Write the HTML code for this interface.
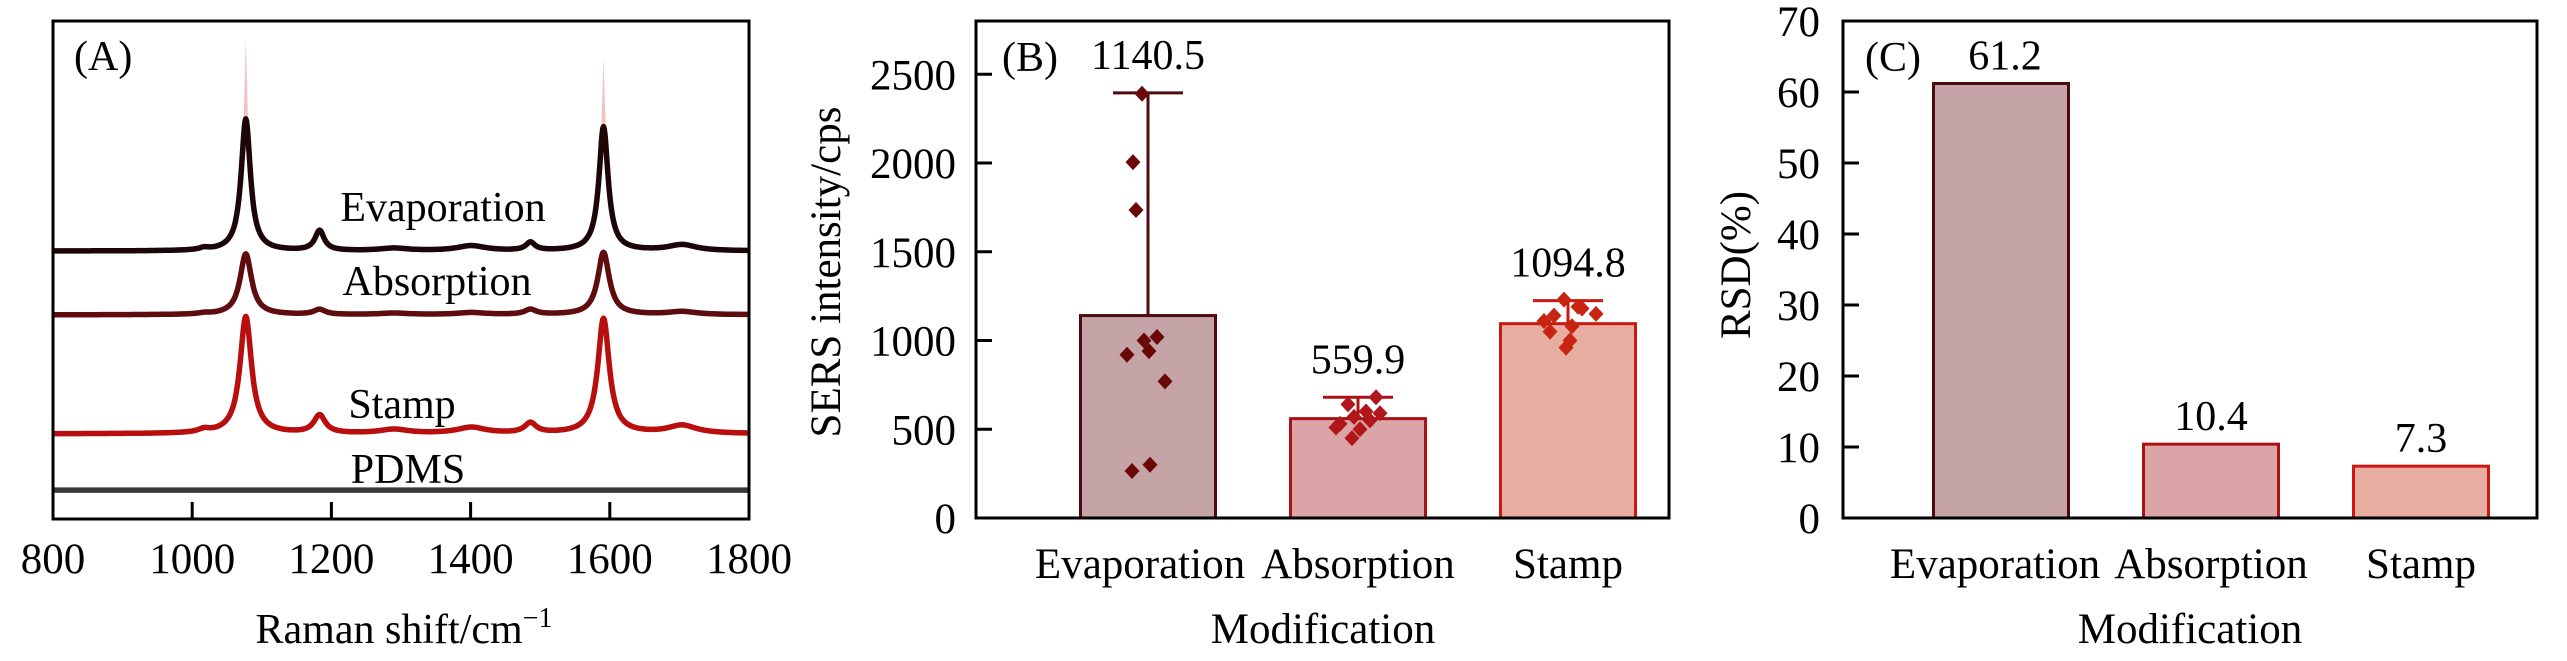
<!DOCTYPE html>
<html><head><meta charset="utf-8"><style>
html,body{margin:0;padding:0;background:#fff;}
svg{display:block;font-family:"Liberation Serif",serif;}
</style></head><body>
<svg id="fig" width="2567" height="661" viewBox="0 0 2567 661"></svg>
<script>
// ---------- Panel A data ----------
const ramanTicks = [800, 1000, 1200, 1400, 1600, 1800];
const seriesNames = ["Evaporation", "Absorption", "Stamp", "PDMS"];
const seriesOffsets = [53.8, 41.0, 17.1, 5.8];
const peakPositions = [1017, 1077, 1183, 1290, 1401, 1486, 1591, 1704];
const evapHeights = [0.4, 26.5, 4.0, 0.5, 1.0, 1.6, 24.9, 1.2];
const absHeights = [0.2, 12.2, 1.0, 0.3, 0.4, 1.0, 12.5, 0.6];
const stampHeights = [0.6, 23.5, 3.6, 0.8, 1.2, 2.0, 23.1, 1.6];
const pdmsHeights = [0, 0, 0, 0, 0, 0, 0, 0];
const evapSpikeHeights = [42.6, 38.7];
const evapSpikePositions = [1077, 1591];
// ---------- Panel B data ----------
const categories = ["Evaporation", "Absorption", "Stamp"];
const meanIntensity = [1140.5, 559.9, 1094.8];
const errorTop = [2395, 680, 1225];
const evapPoints = [2390, 2005, 1735, 1020, 1000, 940, 920, 770, 300, 265];
const absPoints = [680, 640, 600, 590, 570, 550, 530, 510, 500, 450];
const stampPoints = [1230, 1190, 1180, 1150, 1140, 1110, 1080, 1050, 1000, 960];
const intensityTicks = [0, 500, 1000, 1500, 2000, 2500];
// ---------- Panel C data ----------
const rsdValues = [61.2, 10.4, 7.3];
const rsdTicks = [0, 10, 20, 30, 40, 50, 60, 70];

const NS = "http://www.w3.org/2000/svg";
const svg = document.getElementById("fig");
function mk(tag, attrs, parent) {
  const e = document.createElementNS(NS, tag);
  for (const k in attrs) e.setAttribute(k, attrs[k]);
  (parent || svg).appendChild(e);
  return e;
}
function txt(s, x, y, size, anchor, parent, extra) {
  const t = mk("text", Object.assign({x: x, y: y, "font-size": size, "text-anchor": anchor || "middle", fill: "#000"}, extra || {}), parent);
  t.textContent = s;
  return t;
}

// ===== Panel A =====
const A = {l: 53, r: 749, t: 21, b: 519};
const xA = v => A.l + (v - 800) / 1000 * (A.r - A.l);
const yA = v => A.b - v / 100 * (A.b - A.t);
const gA = mk("g", {});


function spectrum(offset, heights, gamma) {
  let d = "";
  for (let v = 800; v <= 1800; v += 1) {
    let s = offset;
    for (let i = 0; i < peakPositions.length; i++) {
      const g = (i === 3 || i === 7 || i === 4) ? 25 : gamma;
      s += heights[i] * g * g / ((v - peakPositions[i]) ** 2 + g * g);
    }
    d += (v === 800 ? "M" : "L") + xA(v).toFixed(1) + "," + yA(s).toFixed(1);
  }
  return d;
}
for (let i = 0; i < evapSpikePositions.length; i++) {
  const sp = mk("path", {d: "M" + (xA(evapSpikePositions[i]) - 3) + "," + yA(seriesOffsets[0] + 20) + "L" + xA(evapSpikePositions[i]) + "," + yA(seriesOffsets[0] + evapSpikeHeights[i]) + "L" + (xA(evapSpikePositions[i]) + 3) + "," + yA(seriesOffsets[0] + 20) + "Z", fill: "#f0c4c6"}, gA);
  
  
}
const allHeights = [evapHeights, absHeights, stampHeights, pdmsHeights];
const specColors = ["#1c0607", "#5e0c0e", "#b80e0e", "#3a3a3a"];
const specGammas = [8, 10, 10, 8];
for (let k = 0; k < 4; k++) {
  const p = mk("path", {d: spectrum(seriesOffsets[k], allHeights[k], specGammas[k]), fill: "none", stroke: specColors[k], "stroke-width": 5.5, "stroke-linejoin": "round"}, gA);
  
  
}
const specLabelPos = [[443, 221], [437, 295], [402, 418], [408, 483]];
for (let k = 0; k < 4; k++) {
  const t = txt(seriesNames[k], specLabelPos[k][0], specLabelPos[k][1], 42, "middle", gA);
  
  
}
const frA = mk("rect", {x: A.l, y: A.t, width: A.r - A.l, height: A.b - A.t, fill: "none", stroke: "#000", "stroke-width": 3});


for (const v of ramanTicks) {
  if (v > 800 && v < 1800) {
    const tk = mk("line", {x1: xA(v), x2: xA(v), y1: A.b, y2: A.b - 17, stroke: "#000", "stroke-width": 3});
    
    
  }
  const tl = txt(String(v), xA(v), 573, 43);
  
  
}
const xtA = mk("text", {x: 404, y: 643, "font-size": 42, "text-anchor": "middle"});
xtA.innerHTML = 'Raman shift/cm<tspan font-size="28" dy="-16">−1</tspan>';


const lA = txt("(A)", 74, 70, 42, "start");



// ===== Panel B & C common =====
const fills = ["#c4a4a6", "#dba4a6", "#e9aea2"];
const strokes = ["#4e0a0c", "#a81214", "#cc1810"];
const dotColors = ["#6a0808", "#b0161a", "#c82412"];

// ===== Panel B =====
const B = {l: 976, r: 1669, t: 21, b: 518, max: 2800};
const yB = v => B.b - v / B.max * (B.b - B.t);
const xB = i => 1148 + 210 * i;
const barW = 135;
const gB = mk("g", {});


const ptsAll = [evapPoints, absPoints, stampPoints];
const jitter = [[-6, -15, -12, 9, -4, 1, -21, 17, 2, -16], [18, -10, 8, 22, -4, 12, -18, -22, 2, -6], [-4, 10, 14, 28, -14, -24, 4, -18, 2, -2]];
for (let i = 0; i < 3; i++) {
  const r = mk("rect", {x: xB(i) - barW / 2, y: yB(meanIntensity[i]), width: barW, height: B.b - yB(meanIntensity[i]), fill: fills[i], stroke: strokes[i], "stroke-width": 3}, gB);
  
  
  const el = mk("line", {x1: xB(i), x2: xB(i), y1: yB(meanIntensity[i]), y2: yB(errorTop[i]), stroke: strokes[i], "stroke-width": 3}, gB);
  
  
  const cap = mk("line", {x1: xB(i) - 35, x2: xB(i) + 35, y1: yB(errorTop[i]), y2: yB(errorTop[i]), stroke: strokes[i], "stroke-width": 3}, gB);
  
  
  const pts = ptsAll[i];
  for (let j = 0; j < pts.length; j++) {
    const cx = xB(i) + jitter[i][j], cy = yB(pts[j]);
    const d = mk("path", {d: `M${cx},${cy - 8}L${cx + 7.5},${cy}L${cx},${cy + 8}L${cx - 7.5},${cy}Z`, fill: dotColors[i]}, gB);
    
    
  }
  const vl = txt(meanIntensity[i].toFixed(1), xB(i), yB(errorTop[i]) - 24, 42, "middle", gB);
  
  
  const cl = txt(categories[i], xB(i) - (i === 0 ? 8 : 0), 578, 43, "middle", gB);
  
  
}
const frB = mk("rect", {x: B.l, y: B.t, width: B.r - B.l, height: B.b - B.t, fill: "none", stroke: "#000", "stroke-width": 3});


for (const v of intensityTicks) {
  if (v > 0) {
    const tk = mk("line", {x1: B.l, x2: B.l + 16, y1: yB(v), y2: yB(v), stroke: "#000", "stroke-width": 3});
    
    
  }
  const tl = txt(String(v), 956, yB(v) + 15, 43, "end");
  
  
}
const ytB = txt("SERS intensity/cps", 0, 0, 43, "middle", null, {transform: "translate(840,272) rotate(-90)"});


const xtB = txt("Modification", 1323, 643, 43);


const lB = txt("(B)", 1002, 71, 42, "start");



// ===== Panel C =====
const C = {l: 1843, r: 2537, t: 21, b: 518, max: 70};
const yC = v => C.b - v / C.max * (C.b - C.t);
const xC = i => 2001 + 210 * i;
for (let i = 0; i < 3; i++) {
  const r = mk("rect", {x: xC(i) - barW / 2, y: yC(rsdValues[i]), width: barW, height: C.b - yC(rsdValues[i]), fill: fills[i], stroke: strokes[i], "stroke-width": 3});
  
  
  const vl = txt(rsdValues[i].toFixed(1), xC(i) + (i === 0 ? 4 : 0), yC(rsdValues[i]) - 14, 42);
  
  
  const cl = txt(categories[i], xC(i) - (i === 0 ? 6 : 0), 578, 43);
  
  
}
const frC = mk("rect", {x: C.l, y: C.t, width: C.r - C.l, height: C.b - C.t, fill: "none", stroke: "#000", "stroke-width": 3});


for (const v of rsdTicks) {
  if (v > 0 && v < 70) {
    const tk = mk("line", {x1: C.l, x2: C.l + 16, y1: yC(v), y2: yC(v), stroke: "#000", "stroke-width": 3});
    
    
  }
  const tl = txt(String(v), 1820, yC(v) + 15, 43, "end");
  
  
}
const ytC = txt("RSD(%)", 0, 0, 43, "middle", null, {transform: "translate(1750,265) rotate(-90)"});


const xtC = txt("Modification", 2190, 643, 43);


const lC = txt("(C)", 1865, 71, 42, "start");


</script>
</body></html>
